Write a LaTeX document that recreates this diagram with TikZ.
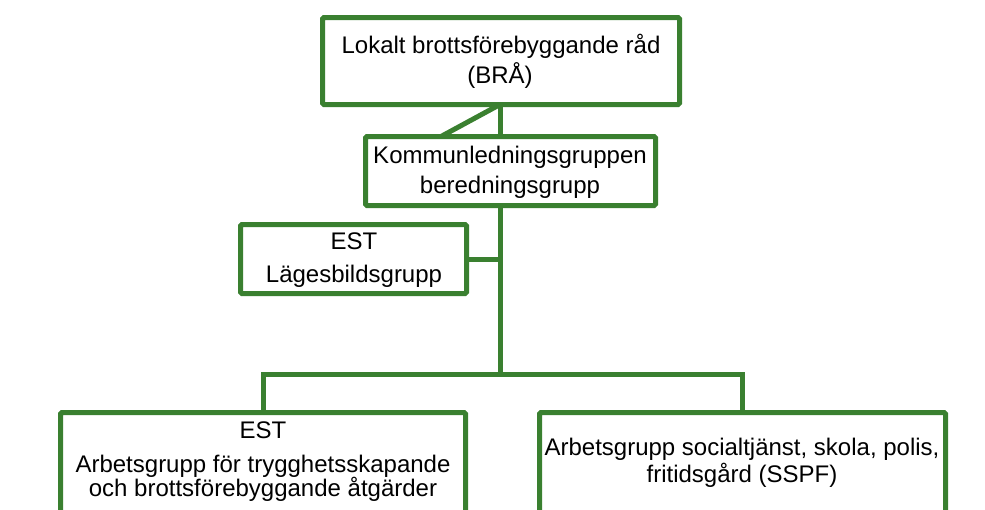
\documentclass[tikz,border=0pt]{standalone}
\usepackage{fontspec}
\setmainfont{Liberation Sans}
\definecolor{orggreen}{RGB}{58,128,48}
\begin{document}
\begin{tikzpicture}[x=1pt,y=-1pt,
  box/.style={draw=orggreen, line width=5pt, rounded corners=1.5pt, fill=white, inner sep=0pt, outer sep=0pt},
  txt/.style={font=\fontsize{24}{30}\selectfont, align=center, inner sep=0pt, anchor=base, text=black},
  conn/.style={draw=orggreen, line width=5pt}]
\useasboundingbox (0,0) rectangle (985,509);
\clip (0,0) rectangle (985,509);
% connectors (drawn first, boxes cover ends)
\coordinate (trunk) at (500,374);
\coordinate (diag) at (441,0);
\coordinate (leftdrop) at (263,374);
\coordinate (rightdrop) at (742,374);
% boxes
\node[box, minimum width=357pt, minimum height=87pt] (bra) at (501,61) {};
\node[box, minimum width=290pt, minimum height=69pt] (kom) at (510.5,171) {};
\node[box, minimum width=226pt, minimum height=69pt] (est) at (353.5,259) {};
\node[box, minimum width=405pt, minimum height=140pt] (arb) at (263,482.5) {};
\node[box, minimum width=406pt, minimum height=140pt] (sspf) at (742.5,482.5) {};
\draw[conn] (bra.south -| trunk) -- (kom.north -| trunk);
\draw[conn] (bra.south -| trunk) -- (kom.north -| diag);
\draw[conn] (kom.south -| trunk) -- (trunk);
\draw[conn] (est.east) -- (est.east -| trunk);
\draw[conn] (arb.north -| leftdrop) |- (trunk) -| (sspf.north -| rightdrop);
% texts
\node[txt] (braT) at (501,53) {Lokalt brottsförebyggande råd};
\node[txt] (braT2) at (500,83) {(BRÅ)};
\node[txt] (komT) at (510,163) {Kommunledningsgruppen};
\node[txt] (komT2) at (510,193) {beredningsgrupp};
\node[txt] (estT) at (354,249) {EST};
\node[txt] (estT2) at (354,282) {Lägesbildsgrupp};
\node[txt] (arbT) at (263,438) {EST};
\node[txt] (arbT2) at (263,472) {Arbetsgrupp för trygghetsskapande};
\node[txt] (arbT3) at (263,496) {och brottsförebyggande åtgärder};
\node[txt] (sspfT) at (742,455) {Arbetsgrupp socialtjänst, skola, polis,};
\node[txt] (sspfT2) at (742,482) {fritidsgård (SSPF)};
\end{tikzpicture}
\end{document}
